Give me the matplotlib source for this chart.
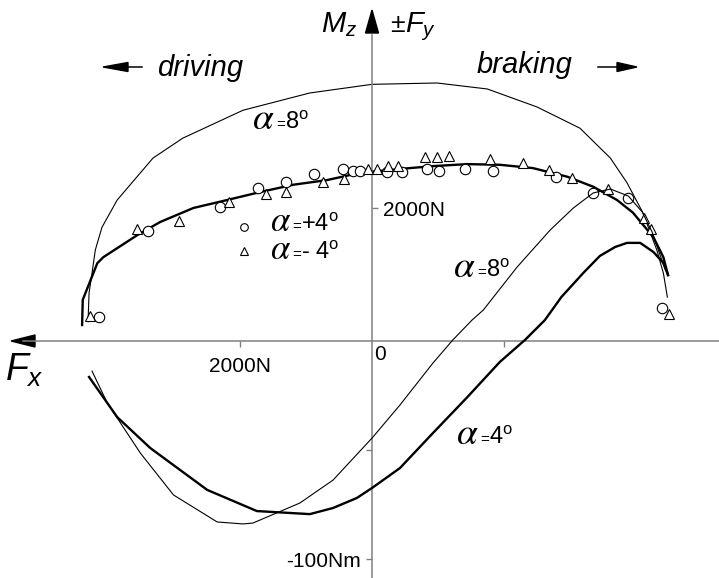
import matplotlib
matplotlib.use('Agg')
import matplotlib.pyplot as plt

plt.rcParams['font.family'] = ['Liberation Sans', 'DejaVu Sans']
plt.rcParams['mathtext.fontset'] = 'custom'
plt.rcParams['mathtext.rm'] = 'Liberation Sans'
plt.rcParams['mathtext.it'] = 'Liberation Sans:italic'

# Fx in N (positive = driving, to the left), Fy in N, Mz in Nm
# fitted Fy curve, alpha = 4 deg
fx_fy4 = [4380, 4370, 4150, 4060, 3550, 3200, 2700, 2190, 1690, 1190, 680, 180,
          -570, -920, -1440, -1930, -2430, -2950, -3340, -3700, -3940, -4250, -4400, -4470]
fy4 = [240, 620, 1170, 1260, 1590, 1790, 2000, 2120, 2240, 2350, 2420, 2530,
       2600, 2630, 2660, 2650, 2600, 2470, 2320, 2120, 1930, 1560, 1260, 990]

# Fy curve, alpha = 8 deg
fx_fy8 = [4290, 4275, 4230, 4180, 4080, 3850, 3550, 3310, 2860, 1950, 940, 0,
          -980, -1740, -2490, -3140, -3600, -3850, -4090, -4300, -4400, -4460]
fy8 = [290, 720, 1020, 1370, 1710, 2120, 2470, 2750, 3050, 3470, 3730, 3860,
       3880, 3790, 3520, 3200, 2750, 2380, 1930, 1370, 1020, 660]

# measured points alpha = +4 deg (circles)
fx_circ = [4120, 3380, 2300, 1720, 1300, 880, 440, 290, 180, -230, -450, -830,
           -1010, -1400, -1830, -2780, -3340, -3870, -4380]
fy_circ = [360, 1650, 2020, 2300, 2390, 2510, 2590, 2560, 2560, 2540, 2540, 2590,
           2560, 2590, 2560, 2470, 2230, 2150, 500]

# measured points alpha = -4 deg (triangles)
fx_tri = [4260, 3550, 2910, 2160, 1600, 1300, 740, 420, 60, -80, -240, -390,
          -800, -980, -1160, -1780, -2280, -2670, -3020, -3570, -4110, -4220, -4490]
fy_tri = [380, 1680, 1800, 2090, 2210, 2240, 2390, 2440, 2590, 2590, 2630, 2630,
          2770, 2770, 2780, 2740, 2680, 2570, 2450, 2290, 1850, 1680, 410]

# aligning moment Mz, alpha = 4 deg
fx_mz4 = [4275, 3850, 3350, 2490, 1740, 940, 590, 230, 0, -420, -920, -1440,
          -1930, -2310, -2610, -2860, -3190, -3440, -3670, -3850, -4050, -4250, -4400, -4470]
mz4 = [-16.5, -34.9, -49.1, -68.3, -78.0, -79.4, -76.6, -72.0, -67.4, -58.3, -42.2, -25.7,
       -9.6, 0.5, 9.6, 20.2, 31.2, 39.0, 43.1, 45.0, 45.0, 40.8, 35.8, 30.3]

# aligning moment Mz, alpha = 8 deg
fx_mz8 = [4230, 4000, 3500, 3000, 2340, 1950, 1800, 1090, 590, 0, -420, -920,
          -1220, -1510, -1680, -2190, -2690, -3040, -3340, -3600, -3870, -4080, -4230, -4350, -4430]
mz8 = [-13.8, -28.4, -51.4, -70.6, -83.0, -83.9, -83.5, -74.3, -63.8, -44.5, -29.4, -10.1,
       0.5, 9.6, 14.2, 33.9, 50.9, 61.0, 67.9, 69.7, 66.5, 59.2, 50.0, 39.4, 32.6]

W, H = 719, 578
gray = '#808080'


def at(x, y):
    # pixel position -> axes fraction
    return x / W, 1 - y / H


fig = plt.figure(figsize=(7.19, 5.78), dpi=100)
ax = fig.add_axes([0, 0, 1, 1])
axm = ax.twinx()

ax.set_xlim(5620, -5240)
ax.set_ylim(-3564, 5128)
axm.set_ylim(-108.7, 156.4)

# curves
ax.plot(fx_fy8, fy8, color='black', lw=0.8)
ax.plot(fx_fy4, fy4, color='black', lw=1.7)
axm.plot(fx_mz8, mz8, color='black', lw=0.8)
axm.plot(fx_mz4, mz4, color='black', lw=1.7)
ax.plot(fx_circ, fy_circ, 'o', ms=7.5, mfc='white', mec='black', mew=0.8, zorder=3)
ax.plot(fx_tri, fy_tri, '^', ms=7.5, mfc='white', mec='black', mew=0.8, zorder=3)

# axes through the origin
ax.spines['left'].set_visible(False)
ax.spines['top'].set_visible(False)
ax.spines['bottom'].set_position(('data', 0))
ax.spines['right'].set_position(('data', 0))
ax.spines['bottom'].set_bounds(-5240, 5270)
ax.spines['right'].set_bounds(-3564, 4600)
for s in ['bottom', 'right']:
    ax.spines[s].set_color(gray)
    ax.spines[s].set_linewidth(1.1)
for s in ['top', 'bottom', 'right']:
    axm.spines[s].set_visible(False)
axm.spines['left'].set_position(('data', 0))
axm.spines['left'].set_color('none')

ax.xaxis.set_ticks_position('bottom')
ax.yaxis.set_ticks_position('right')
axm.yaxis.set_ticks_position('left')
ax.set_xticks([2000, -2000], ['2000N', ''])
ax.set_yticks([2000], ['2000N'])
axm.set_yticks([-50, -100], ['', '-100Nm'])
ax.tick_params(axis='x', direction='out', length=4.3, width=1, color=gray, pad=7, labelsize=15)
ax.tick_params(axis='y', direction='out', length=4.3, width=1, color=gray, pad=3.5, labelsize=15)
axm.tick_params(axis='y', direction='out', length=4.3, width=1, color=gray, pad=3.5, labelsize=15)

# arrow heads and direction arrows
tr = ax.transAxes
heads = [[(11, 341), (35, 335), (35, 347)],
         [(372, 10), (365.5, 33), (378.5, 33)],
         [(103, 67), (128, 62.5), (128, 71.5)],
         [(637, 67), (617, 62.5), (617, 71.5)]]
for h in heads:
    pts = [at(x, y) for x, y in h]
    ax.fill([p[0] for p in pts], [p[1] for p in pts], color='black', transform=tr, clip_on=False)
for x0, x1 in [(126, 142), (598, 619)]:
    ax.plot([at(x0, 67)[0], at(x1, 67)[0]], [at(x0, 67)[1]] * 2, color='black', lw=1.1, transform=tr)

# axis titles
ax.text(*at(357, 32), r'$M_z$', transform=tr, fontsize=21, ha='right', va='baseline')
ax.text(*at(390, 32), '±', transform=tr, fontsize=19, ha='left', va='baseline')
ax.text(*at(405, 32), r'$F_y$', transform=tr, fontsize=21, ha='left', va='baseline')
ax.text(*at(5, 381), r'$F_x$', transform=tr, fontsize=27, ha='left', va='baseline')
ax.text(*at(157, 76), 'driving', transform=tr, fontsize=21, style='italic', ha='left', va='baseline')
ax.text(*at(477, 73), 'braking', transform=tr, fontsize=21, style='italic', ha='left', va='baseline')
ax.text(*at(374, 345), '0', transform=tr, fontsize=15, ha='left', va='top')


def alpha_label(x, y, rest, size=27):
    ax.text(*at(x + 24, y), r'$\alpha$', transform=tr, fontsize=size, math_fontfamily='stix',
            ha='right', va='baseline')
    ax.text(*at(x + 25, y), '=', transform=tr, fontsize=11, ha='left', va='baseline')
    ax.text(*at(x + 34, y), rest, transform=tr, fontsize=17, ha='left', va='baseline')


alpha_label(251, 129, r'$8^{\rm o}$')
alpha_label(452, 277, r'$8^{\rm o}$')
alpha_label(455, 444, r'$4^{\rm o}$')

# legend
ax.plot(*at(244, 227), 'o', ms=5.5, mfc='white', mec='black', mew=0.8, transform=tr)
ax.plot(*at(244, 251), '^', ms=5.5, mfc='white', mec='black', mew=0.8, transform=tr)
alpha_label(267, 231, r'+4$^{\rm o}$', size=25)
alpha_label(267, 259, r'- 4$^{\rm o}$', size=25)

fig.savefig('out.png', dpi=100)
